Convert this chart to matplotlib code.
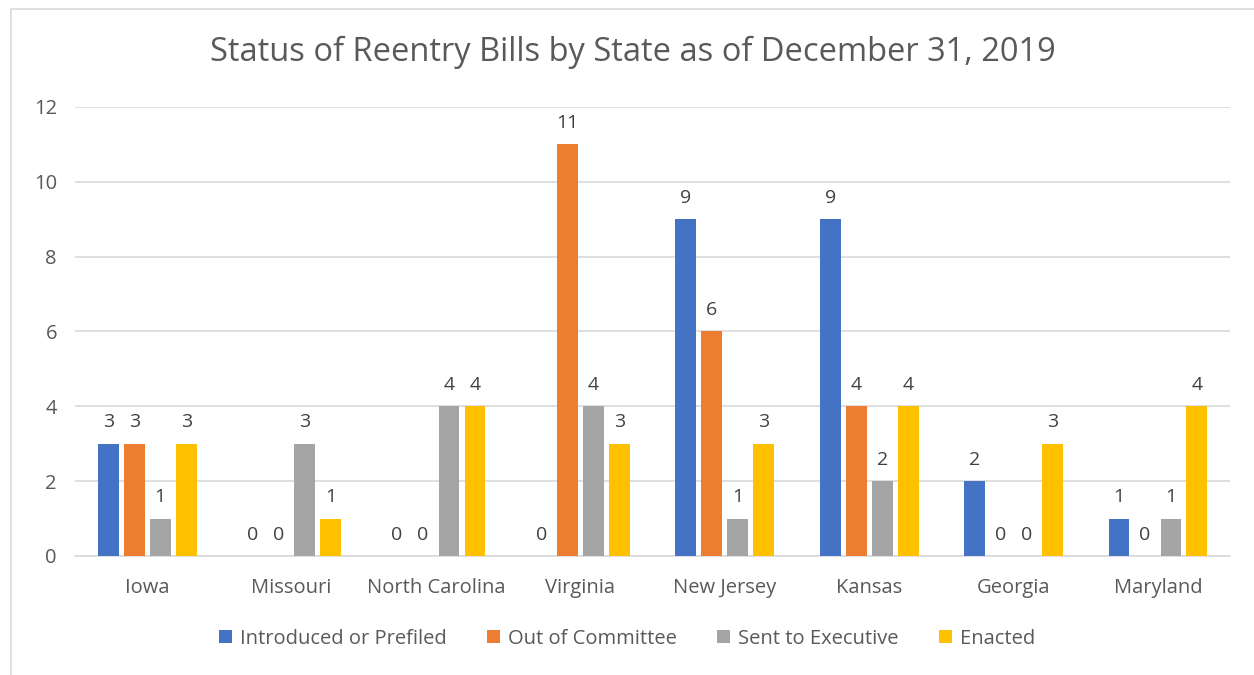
import numpy as np
import matplotlib.pyplot as plt
from matplotlib.patches import Rectangle

# データ
states = ['Iowa', 'Missouri', 'North Carolina', 'Virginia', 'New Jersey',
          'Kansas', 'Georgia', 'Maryland']
introduced = [3, 0, 0, 0, 9, 9, 2, 1]
out_of_committee = [3, 0, 0, 11, 6, 4, 0, 0]
sent_to_exec = [1, 3, 4, 4, 1, 2, 0, 1]
enacted = [3, 1, 4, 3, 3, 4, 3, 4]

series_names = ['Introduced or Prefiled', 'Out of Committee', 'Sent to Executive', 'Enacted']
colors = ['#4472C4', '#ED7D31', '#A5A5A5', '#FFC000']
text_c = '#595959'

plt.rcParams['font.family'] = ['Open Sans', 'DejaVu Sans']

fig = plt.figure(figsize=(12.54, 6.75), dpi=100)
ax = fig.add_axes([0.0598, 0.1763, 0.9212, 0.6652])

# 外枠
fig.patches.append(Rectangle((11 / 1254, -0.05), 1.2, 1.05 - 9 / 675,
                             transform=fig.transFigure, fill=False,
                             edgecolor='#D9D9D9', linewidth=1.2))

x = np.arange(len(states))
w = 0.145
step = 0.18
all_series = [introduced, out_of_committee, sent_to_exec, enacted]
for i, (vals, c, name) in enumerate(zip(all_series, colors, series_names)):
    pos = x + (i - 1.5) * step
    ax.bar(pos, vals, width=w, color=c, label=name, zorder=3)
    for p, v in zip(pos, vals):
        ax.text(p, v + 0.33, str(v), ha='center', va='bottom', fontsize=14, color='#404040')

ax.set_xlim(-0.5, len(states) - 0.5)
ax.set_ylim(0, 12)
ax.set_yticks(range(0, 13, 2))
ax.set_xticks(x)
ax.set_xticklabels(states)
ax.tick_params(axis='both', length=0, labelsize=14.5, colors=text_c)
ax.tick_params(axis='x', pad=16)
ax.tick_params(axis='y', pad=13)
ax.grid(axis='y', color='#D9D9D9', linewidth=1.2, zorder=0)
for s in ['top', 'right', 'left']:
    ax.spines[s].set_visible(False)
ax.spines['bottom'].set_color('#D9D9D9')
ax.spines['bottom'].set_linewidth(1.2)

fig.text(0.505, 0.922, 'Status of Reentry Bills by State as of December 31, 2019',
         ha='center', va='center', fontsize=23.5, color=text_c)

leg = fig.legend(loc='center', bbox_to_anchor=(0.5, 0.054), ncol=4, frameon=False,
                 fontsize=14.5, handlelength=0.65, handleheight=0.65, handletextpad=0.4,
                 columnspacing=2.0)
for t in leg.get_texts():
    t.set_color(text_c)

fig.savefig('out.png', dpi=100)
